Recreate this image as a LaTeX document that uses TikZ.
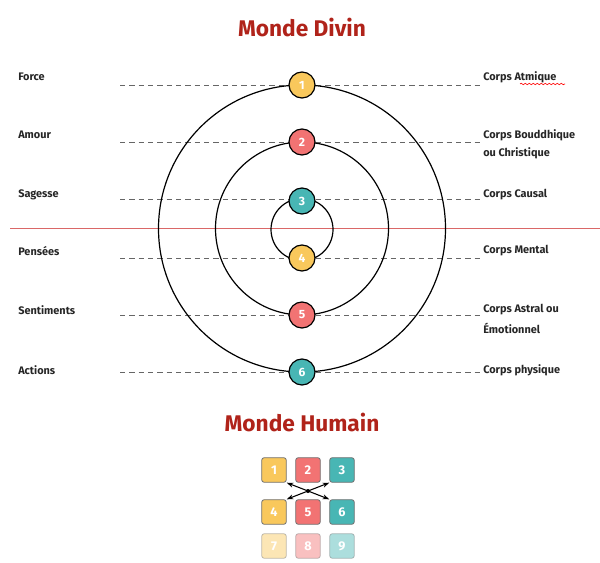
\documentclass[tikz,border=0pt]{standalone}
\usepackage{fontspec}
\setmainfont{Fira Sans}
\usetikzlibrary{decorations.pathmorphing,arrows.meta}
\definecolor{cy}{HTML}{F9C85C}
\definecolor{cr}{HTML}{F27373}
\definecolor{ct}{HTML}{48B6B4}
\definecolor{ttl}{HTML}{B0231A}
\begin{document}
\begin{tikzpicture}[x=0.75pt,y=-0.75pt,
  lab/.style={font=\fontsize{8.2}{10}\selectfont\bfseries,text=black!85,inner sep=0},
  num/.style={circle,draw=black,line width=0.9pt,minimum size=19.5pt,inner sep=0,text=white,font=\fontsize{9}{10}\selectfont\bfseries},
  sq/.style={rounded corners=2pt,draw=black!55,line width=0.6pt,minimum size=18.5pt,inner sep=0,text=white,font=\fontsize{9.5}{10}\selectfont\bfseries},
  dline/.style={black!60,line width=0.6pt,dash pattern=on 4pt off 3pt},
  ring/.style={line width=0.9pt},
  arr/.style={-{Stealth[length=5pt]},line width=0.8pt},
  title/.style={text=ttl,font=\fontsize{17}{20}\selectfont\bfseries}]
\useasboundingbox (0,0) rectangle (600,563);
\node[title] (t1) at (302,28) {Monde Divin};
\node[title] (t2) at (302,422) {Monde Humain};
% dashed lines
\foreach \y in {85,142,199,258,315,372}{\draw[dline] (120,\y) -- (482,\y);}
\draw[draw=cr!90!black,line width=0.6pt] (10,228) -- (600,228);
% rings
\draw[ring] (302,228.5) circle[radius=143.5];
\draw[ring] (302,228.5) circle[radius=86.5];
\draw[ring] (302,229.5) circle[radius=31];
% number nodes
\node[num,fill=cy] (n1) at (302,85) {1};
\node[num,fill=cr] (n2) at (302,142) {2};
\node[num,fill=ct] (n3) at (302,201) {3};
\node[num,fill=cy] (n4) at (302,258) {4};
\node[num,fill=cr] (n5) at (302,315) {5};
\node[num,fill=ct] (n6) at (302,372) {6};
% left labels
\node[lab,anchor=west] (l1) at (18,77) {Force};
\node[lab,anchor=west] (l2) at (18,135) {Amour};
\node[lab,anchor=west] (l3) at (18,195) {Sagesse};
\node[lab,anchor=west] (l4) at (18,251) {Pensées};
\node[lab,anchor=west] (l5) at (18,310) {Sentiments};
\node[lab,anchor=west] (l6) at (18,370) {Actions};
% right labels
\node[lab,anchor=west] (r1) at (483,77) {Corps Atmique};
\draw[red,line width=0.5pt,decorate,decoration={snake,amplitude=0.5pt,segment length=3pt}] (520,84) -- (565,84);
\node[lab,anchor=west] (r2) at (483,135) {Corps Bouddhique};
\node[lab,anchor=west] (r2b) at (483,153) {ou Christique};
\node[lab,anchor=west] (r3) at (483,195) {Corps Causal};
\node[lab,anchor=west] (r4) at (483,251) {Corps Mental};
\node[lab,anchor=west] (r5) at (483,310) {Corps Astral ou};
\node[lab,anchor=west] (r5b) at (483,328) {Émotionnel};
\node[lab,anchor=west] (r6) at (483,370) {Corps physique};
% grid
\node[sq,fill=cy] (s1) at (274,470) {1};
\node[sq,fill=cr] (s2) at (308,470) {2};
\node[sq,fill=ct] (s3) at (342,470) {3};
\node[sq,fill=cy] (s4) at (274,512) {4};
\node[sq,fill=cr] (s5) at (308,512) {5};
\node[sq,fill=ct] (s6) at (342,512) {6};
\node[sq,fill=cy,opacity=0.45,text opacity=1] (s7) at (274,546) {7};
\node[sq,fill=cr,opacity=0.45,text opacity=1] (s8) at (308,546) {8};
\node[sq,fill=ct,opacity=0.45,text opacity=1] (s9) at (342,546) {9};
\coordinate (c) at (308,491);
\fill (c) circle[radius=2];
\draw[arr] (c) -- (s1.south east);
\draw[arr] (c) -- (s3.south west);
\draw[arr] (c) -- (s4.north east);
\draw[arr] (c) -- (s6.north west);
\end{tikzpicture}
\end{document}
